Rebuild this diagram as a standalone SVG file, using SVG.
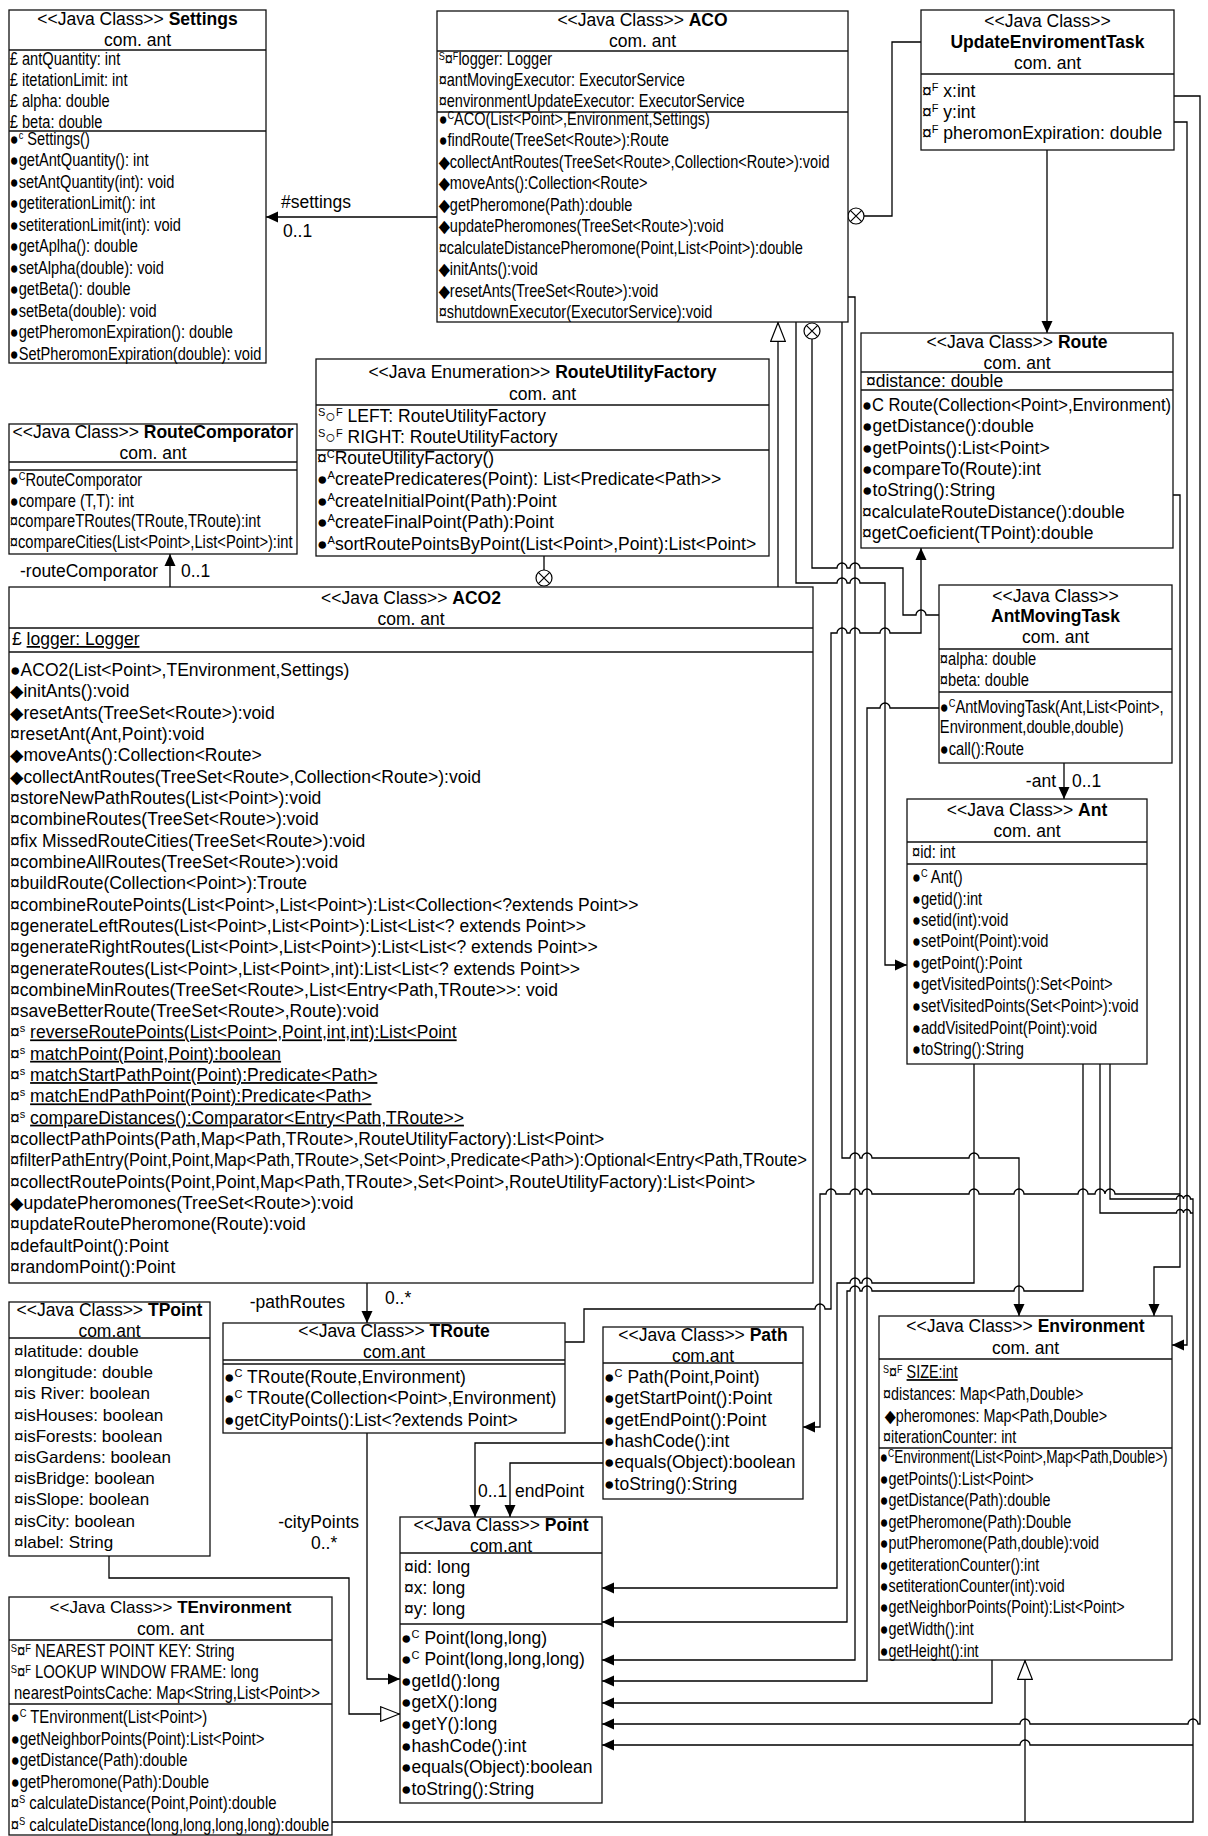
<svg xmlns="http://www.w3.org/2000/svg" width="1208" height="1836" viewBox="0 0 1208 1836">
<style>
text{font-family:"Liberation Sans",Arial,"DejaVu Sans",sans-serif;font-size:17.5px;fill:#000}
.m{text-anchor:middle}
.e{text-anchor:end}
.bd{font-weight:bold}
.s{font-size:11px}
.u{text-decoration:underline}
.bx{fill:#fff;stroke:#111;stroke-width:1.3}
.ln{fill:none;stroke:#111;stroke-width:1.3}
.c{fill:none;stroke:#000;stroke-width:1.3}
.x circle{fill:#fff;stroke:#000;stroke-width:1.2}
.x path{stroke:#000;stroke-width:1.2;fill:none}
</style>
<defs>
<marker id="a" viewBox="0 0 12 12" refX="12" refY="6" markerWidth="12" markerHeight="12" markerUnits="userSpaceOnUse" orient="auto"><path d="M0,0.5L12,6L0,11.5z" fill="#000"/></marker>
<marker id="t" viewBox="0 0 20 16" refX="20" refY="8" markerWidth="20" markerHeight="16" markerUnits="userSpaceOnUse" orient="auto"><path d="M0.7,0.7L19.3,8L0.7,15.3z" fill="#fff" stroke="#000" stroke-width="1.2"/></marker>
</defs>
<rect width="1208" height="1836" fill="#fff"/>

<g id="connectors">
<path class="c" d="M437,217H266" marker-end="url(#a)"/>
<path class="c" d="M864,216H892V42H921"/>
<g class="x"><circle cx="856" cy="216" r="8"/><path d="M850.3,210.3L861.7,221.7M861.7,210.3L850.3,221.7"/></g>
<path class="c" d="M1047,150V333" marker-end="url(#a)"/>
<path class="c" d="M1174,96H1200V1724H1198A5,5 0 0 0 1188,1724H1030A5,5 0 0 0 1020,1724H602" marker-end="url(#a)"/>
<path class="c" d="M1174,122H1187V1345H1172" marker-end="url(#a)"/>
<path class="c" d="M1173,495H1180V1267H1154V1316" marker-end="url(#a)"/>
<path class="c" d="M1180,1194H1115A5,5 0 0 0 1105,1194A5,5 0 0 0 1095,1194H1088A5,5 0 0 0 1078,1194H1024A5,5 0 0 0 1014,1194H979A5,5 0 0 0 969,1194H872A5,5 0 0 0 862,1194H860A5,5 0 0 0 850,1194H836A5,5 0 0 0 826,1194H820V1427H803" marker-end="url(#a)"/>
<path class="c" d="M842,322V1158H850A5,5 0 0 1 860,1158H862A5,5 0 0 1 872,1158H969A5,5 0 0 1 979,1158H1019V1316" marker-end="url(#a)"/>
<path class="c" d="M848,297H855V1660H602" marker-end="url(#a)"/>
<path class="c" d="M939,708H890A5,5 0 0 0 880,708H867V1681H602" marker-end="url(#a)"/>
<path class="c" d="M974,1064V1283H872A5,5 0 0 0 862,1283H860A5,5 0 0 0 850,1283H837V1588H602" marker-end="url(#a)"/>
<path class="c" d="M1083,1064V1291H1024A5,5 0 0 0 1014,1291H872A5,5 0 0 0 862,1291H860A5,5 0 0 0 850,1291H847V1622H602" marker-end="url(#a)"/>
<path class="c" d="M1110,1064V1199H1176.5A3.5,3.5 0 0 1 1183.5,1199A3.5,3.5 0 0 1 1190.5,1199H1193V1822H332"/>
<path class="c" d="M1100,1064V1213H1176.5A3.5,3.5 0 0 1 1183.5,1213A3.5,3.5 0 0 1 1190.5,1213H1193"/>
<path class="c" d="M1193,1745H1030A5,5 0 0 0 1020,1745H602" marker-end="url(#a)"/>
<path class="c" d="M992,1660V1703H602" marker-end="url(#a)"/>
<path class="c" d="M1025,1822V1660" marker-end="url(#t)"/>
<path class="c" d="M565,1342H584V1309H815A5,5 0 0 1 825,1309H831V633H837A5,5 0 0 1 847,633H850A5,5 0 0 1 860,633H880A5,5 0 0 1 890,633H921V548" marker-end="url(#a)"/>
<path class="c" d="M796,322V583H837A5,5 0 0 1 847,583H850A5,5 0 0 1 860,583H885V965H907" marker-end="url(#a)"/>
<path class="c" d="M812,339V568H837A5,5 0 0 1 847,568H850A5,5 0 0 1 860,568H903V615H916A5,5 0 0 1 926,615H939"/>
<g class="x"><circle cx="812" cy="331" r="8"/><path d="M806.3,325.3L817.7,336.7M817.7,325.3L806.3,336.7"/></g>
<path class="c" d="M1064,763V799" marker-end="url(#a)"/>
<path class="c" d="M778,587V322" marker-end="url(#t)"/>
<path class="c" d="M544,556V570"/>
<g class="x"><circle cx="544" cy="578" r="8"/><path d="M538.3,572.3L549.7,583.7M549.7,572.3L538.3,583.7"/></g>
<path class="c" d="M170,587V554" marker-end="url(#a)"/>
<path class="c" d="M367,1283V1323" marker-end="url(#a)"/>
<path class="c" d="M367,1395V1679H400" marker-end="url(#a)"/>
<path class="c" d="M603,1443H475V1517" marker-end="url(#a)"/>
<path class="c" d="M603,1463H510V1517" marker-end="url(#a)"/>
<path class="c" d="M109,1556V1578H349V1714H400" marker-end="url(#t)"/>
<text x="281" y="208">#settings</text>
<text x="283" y="237">0..1</text>
<text x="20" y="577">-routeComporator</text>
<text x="181" y="577">0..1</text>
<text class="e" x="1056" y="787">-ant</text>
<text x="1072" y="787">0..1</text>
<text class="e" x="345" y="1308">-pathRoutes</text>
<text x="385" y="1304">0..*</text>
<text class="e" x="359" y="1528">-cityPoints</text>
<text x="311" y="1549">0..*</text>
<text x="478" y="1497">0..1</text>
<text x="515" y="1497">endPoint</text>
</g>

<g id="Settings">
<rect class="bx" x="9" y="10" width="257" height="353"/>
<path class="ln" d="M9,50H266M9,131H266"/>
<text class="m" x="137.5" y="25">&lt;&lt;Java Class&gt;&gt; <tspan class="bd">Settings</tspan></text>
<text class="m" x="137.5" y="46">com. ant</text>
<g transform="translate(9,0) scale(0.835,1)">
<text x="1" y="65">£ antQuantity: int</text>
<text x="1" y="86">£ itetationLimit: int</text>
<text x="1" y="107">£ alpha: double</text>
<text x="1" y="128">£ beta: double</text>
<text x="1" y="145">●<tspan class="s" dy="-6">c</tspan><tspan dy="6"> Settings()</tspan></text>
<text x="1" y="166.5">●getAntQuantity(): int</text>
<text x="1" y="188">●setAntQuantity(int): void</text>
<text x="1" y="209.5">●getiterationLimit(): int</text>
<text x="1" y="231">●setiterationLimit(int): void</text>
<text x="1" y="252.5">●getAplha(): double</text>
<text x="1" y="274">●setAlpha(double): void</text>
<text x="1" y="295.5">●getBeta(): double</text>
<text x="1" y="317">●setBeta(double): void</text>
<text x="1" y="338.5">●getPheromonExpiration(): double</text>
<text x="1" y="360">●SetPheromonExpiration(double): void</text>
</g>
</g>

<g id="ACO">
<rect class="bx" x="437" y="11" width="411" height="311"/>
<path class="ln" d="M437,51H848M437,112H848"/>
<text class="m" x="642.5" y="26">&lt;&lt;Java Class&gt;&gt; <tspan class="bd">ACO</tspan></text>
<text class="m" x="642.5" y="47">com. ant</text>
<g transform="translate(437,0) scale(0.83,1)">
<text x="2" y="65"><tspan class="s" dy="-5">S</tspan><tspan dy="5">¤</tspan><tspan class="s" dy="-5">F</tspan><tspan dy="5">logger: Logger</tspan></text>
<text x="2" y="86">¤antMovingExecutor: ExecutorService</text>
<text x="2" y="107">¤environmentUpdateExecutor: ExecutorService</text>
<text x="2" y="125">●<tspan class="s" dy="-6">C</tspan><tspan dy="6">ACO(List&lt;Point&gt;,Environment,Settings)</tspan></text>
<text x="2" y="146.5">●findRoute(TreeSet&lt;Route&gt;):Route</text>
<text x="2" y="168">◆collectAntRoutes(TreeSet&lt;Route&gt;,Collection&lt;Route&gt;):void</text>
<text x="2" y="189.5">◆moveAnts():Collection&lt;Route&gt;</text>
<text x="2" y="211">◆getPheromone(Path):double</text>
<text x="2" y="232.5">◆updatePheromones(TreeSet&lt;Route&gt;):void</text>
<text x="2" y="254">¤calculateDistancePheromone(Point,List&lt;Point&gt;):double</text>
<text x="2" y="275.5">◆initAnts():void</text>
<text x="2" y="297">◆resetAnts(TreeSet&lt;Route&gt;):void</text>
<text x="2" y="318.5">¤shutdownExecutor(ExecutorService):void</text>
</g>
</g>

<g id="UpdateEnviromentTask">
<rect class="bx" x="921" y="10" width="253" height="140"/>
<path class="ln" d="M921,74H1174"/>
<text class="m" x="1047.5" y="27">&lt;&lt;Java Class&gt;&gt;</text>
<text class="m bd" x="1047.5" y="48">UpdateEnviromentTask</text>
<text class="m" x="1047.5" y="69">com. ant</text>
<text x="922" y="97">¤<tspan class="s" dy="-6">F</tspan><tspan dy="6"> x:int</tspan></text>
<text x="922" y="118">¤<tspan class="s" dy="-6">F</tspan><tspan dy="6"> y:int</tspan></text>
<text x="922" y="139">¤<tspan class="s" dy="-6">F</tspan><tspan dy="6"> pheromonExpiration: double</tspan></text>
</g>

<g id="Route">
<rect class="bx" x="861" y="333" width="312" height="215"/>
<path class="ln" d="M861,372H1173M861,390H1173"/>
<text class="m" x="1017" y="348">&lt;&lt;Java Class&gt;&gt; <tspan class="bd">Route</tspan></text>
<text class="m" x="1017" y="369">com. ant</text>
<text x="866" y="387">¤distance: double</text>
<text x="862" y="411" textLength="309" lengthAdjust="spacingAndGlyphs">●C Route(Collection&lt;Point&gt;,Environment)</text>
<text x="862" y="432.3">●getDistance():double</text>
<text x="862" y="453.6">●getPoints():List&lt;Point&gt;</text>
<text x="862" y="475">●compareTo(Route):int</text>
<text x="862" y="496.2">●toString():String</text>
<text x="862" y="517.5">¤calculateRouteDistance():double</text>
<text x="862" y="538.8">¤getCoeficient(TPoint):double</text>
</g>

<g id="RouteComporator">
<rect class="bx" x="9" y="424" width="288" height="130"/>
<path class="ln" d="M9,462H297M9,470H297"/>
<text class="m" x="153" y="438">&lt;&lt;Java Class&gt;&gt; <tspan class="bd">RouteComporator</tspan></text>
<text class="m" x="153" y="459">com. ant</text>
<g transform="translate(9,0) scale(0.84,1)">
<text x="1" y="486">●<tspan class="s" dy="-6">C</tspan><tspan dy="6">RouteComporator</tspan></text>
<text x="1" y="507">●compare (T,T): int</text>
<text x="1" y="527">¤compareTRoutes(TRoute,TRoute):int</text>
<text x="1" y="548">¤compareCities(List&lt;Point&gt;,List&lt;Point&gt;):int</text>
</g>
</g>

<g id="RouteUtilityFactory">
<rect class="bx" x="316" y="359" width="453" height="197"/>
<path class="ln" d="M316,405H769M316,450H769"/>
<text class="m" x="542.5" y="378">&lt;&lt;Java Enumeration&gt;&gt; <tspan class="bd">RouteUtilityFactory</tspan></text>
<text class="m" x="542.5" y="400">com. ant</text>
<text x="318" y="422"><tspan class="s" dy="-6">S</tspan><tspan class="bd" dy="6">○</tspan><tspan class="s" dy="-6">F</tspan><tspan dy="6"> LEFT: RouteUtilityFactory</tspan></text>
<text x="318" y="443"><tspan class="s" dy="-6">S</tspan><tspan class="bd" dy="6">○</tspan><tspan class="s" dy="-6">F</tspan><tspan dy="6"> RIGHT: RouteUtilityFactory</tspan></text>
<text x="317" y="464">¤<tspan class="s" dy="-6">C</tspan><tspan dy="6">RouteUtilityFactory()</tspan></text>
<text x="317" y="485">●<tspan class="s" dy="-6">A</tspan><tspan dy="6">createPredicateres(Point): List&lt;Predicate&lt;Path&gt;&gt;</tspan></text>
<text x="317" y="507">●<tspan class="s" dy="-6">A</tspan><tspan dy="6">createInitialPoint(Path):Point</tspan></text>
<text x="317" y="528">●<tspan class="s" dy="-6">A</tspan><tspan dy="6">createFinalPoint(Path):Point</tspan></text>
<text x="317" y="550">●<tspan class="s" dy="-6">A</tspan><tspan dy="6">sortRoutePointsByPoint(List&lt;Point&gt;,Point):List&lt;Point&gt;</tspan></text>
</g>

<g id="ACO2">
<rect class="bx" x="9" y="587" width="804" height="696"/>
<path class="ln" d="M9,628H813M9,652H813"/>
<text class="m" x="411" y="604">&lt;&lt;Java Class&gt;&gt; <tspan class="bd">ACO2</tspan></text>
<text class="m" x="411" y="625">com. ant</text>
<text x="12" y="645">£ <tspan class="u">logger: Logger</tspan></text>
<text x="10" y="676">●ACO2(List&lt;Point&gt;,TEnvironment,Settings)</text>
<text x="10" y="697.3">◆initAnts():void</text>
<text x="10" y="718.6">◆resetAnts(TreeSet&lt;Route&gt;):void</text>
<text x="10" y="740">¤resetAnt(Ant,Point):void</text>
<text x="10" y="761.3">◆moveAnts():Collection&lt;Route&gt;</text>
<text x="10" y="782.6">◆collectAntRoutes(TreeSet&lt;Route&gt;,Collection&lt;Route&gt;):void</text>
<text x="10" y="803.9">¤storeNewPathRoutes(List&lt;Point&gt;):void</text>
<text x="10" y="825.2">¤combineRoutes(TreeSet&lt;Route&gt;):void</text>
<text x="10" y="846.6">¤fix MissedRouteCities(TreeSet&lt;Route&gt;):void</text>
<text x="10" y="867.9">¤combineAllRoutes(TreeSet&lt;Route&gt;):void</text>
<text x="10" y="889.2">¤buildRoute(Collection&lt;Point&gt;):Troute</text>
<text x="10" y="910.5">¤combineRoutePoints(List&lt;Point&gt;,List&lt;Point&gt;):List&lt;Collection&lt;?extends Point&gt;&gt;</text>
<text x="10" y="931.8">¤generateLeftRoutes(List&lt;Point&gt;,List&lt;Point&gt;):List&lt;List&lt;? extends Point&gt;&gt;</text>
<text x="10" y="953.2">¤generateRightRoutes(List&lt;Point&gt;,List&lt;Point&gt;):List&lt;List&lt;? extends Point&gt;&gt;</text>
<text x="10" y="974.5">¤generateRoutes(List&lt;Point&gt;,List&lt;Point&gt;,int):List&lt;List&lt;? extends Point&gt;&gt;</text>
<text x="10" y="995.8">¤combineMinRoutes(TreeSet&lt;Route&gt;,List&lt;Entry&lt;Path,TRoute&gt;&gt;: void</text>
<text x="10" y="1017.1">¤saveBetterRoute(TreeSet&lt;Route&gt;,Route):void</text>
<text x="10" y="1038.4">¤<tspan class="s" dy="-6">s</tspan><tspan dy="6"> </tspan><tspan class="u">reverseRoutePoints(List&lt;Point&gt;,Point,int,int):List&lt;Point</tspan></text>
<text x="10" y="1059.8">¤<tspan class="s" dy="-6">s</tspan><tspan dy="6"> </tspan><tspan class="u">matchPoint(Point,Point):boolean</tspan></text>
<text x="10" y="1081.1">¤<tspan class="s" dy="-6">s</tspan><tspan dy="6"> </tspan><tspan class="u">matchStartPathPoint(Point):Predicate&lt;Path&gt;</tspan></text>
<text x="10" y="1102.4">¤<tspan class="s" dy="-6">s</tspan><tspan dy="6"> </tspan><tspan class="u">matchEndPathPoint(Point):Predicate&lt;Path&gt;</tspan></text>
<text x="10" y="1123.7">¤<tspan class="s" dy="-6">s</tspan><tspan dy="6"> </tspan><tspan class="u">compareDistances():Comparator&lt;Entry&lt;Path,TRoute&gt;&gt;</tspan></text>
<text x="10" y="1145">¤collectPathPoints(Path,Map&lt;Path,TRoute&gt;,RouteUtilityFactory):List&lt;Point&gt;</text>
<text x="10" y="1166.4" textLength="797" lengthAdjust="spacingAndGlyphs">¤filterPathEntry(Point,Point,Map&lt;Path,TRoute&gt;,Set&lt;Point&gt;,Predicate&lt;Path&gt;):Optional&lt;Entry&lt;Path,TRoute&gt;</text>
<text x="10" y="1187.7">¤collectRoutePoints(Point,Point,Map&lt;Path,TRoute&gt;,Set&lt;Point&gt;,RouteUtilityFactory):List&lt;Point&gt;</text>
<text x="10" y="1209">◆updatePheromones(TreeSet&lt;Route&gt;):void</text>
<text x="10" y="1230.3">¤updateRoutePheromone(Route):void</text>
<text x="10" y="1251.6">¤defaultPoint():Point</text>
<text x="10" y="1273">¤randomPoint():Point</text>
</g>

<g id="AntMovingTask">
<rect class="bx" x="939" y="585" width="233" height="178"/>
<path class="ln" d="M939,649H1172M939,692H1172"/>
<text class="m" x="1055.5" y="602">&lt;&lt;Java Class&gt;&gt;</text>
<text class="m bd" x="1055.5" y="622">AntMovingTask</text>
<text class="m" x="1055.5" y="643">com. ant</text>
<g transform="translate(939,0) scale(0.84,1)">
<text x="1" y="665">¤alpha: double</text>
<text x="1" y="686">¤beta: double</text>
<text x="1" y="713">●<tspan class="s" dy="-6">C</tspan><tspan dy="6">AntMovingTask(Ant,List&lt;Point&gt;,</tspan></text>
<text x="1" y="733">Environment,double,double)</text>
<text x="1" y="755">●call():Route</text>
</g>
</g>

<g id="Ant">
<rect class="bx" x="907" y="799" width="240" height="265"/>
<path class="ln" d="M907,842H1147M907,864H1147"/>
<text class="m" x="1027" y="816">&lt;&lt;Java Class&gt;&gt; <tspan class="bd">Ant</tspan></text>
<text class="m" x="1027" y="837">com. ant</text>
<g transform="translate(907,0) scale(0.84,1)">
<text x="6" y="858">¤id: int</text>
<text x="6" y="883">●<tspan class="s" dy="-6">C</tspan><tspan dy="6"> Ant()</tspan></text>
<text x="6" y="905">●getid():int</text>
<text x="6" y="926">●setid(int):void</text>
<text x="6" y="947">●setPoint(Point):void</text>
<text x="6" y="969">●getPoint():Point</text>
<text x="6" y="990">●getVisitedPoints():Set&lt;Point&gt;</text>
<text x="6" y="1012">●setVisitedPoints(Set&lt;Point&gt;):void</text>
<text x="6" y="1034">●addVisitedPoint(Point):void</text>
<text x="6" y="1055">●toString():String</text>
</g>
</g>

<g id="TPoint">
<rect class="bx" x="9" y="1302" width="201" height="254"/>
<path class="ln" d="M9,1338H210"/>
<text class="m" x="109.5" y="1316">&lt;&lt;Java Class&gt;&gt; <tspan class="bd">TPoint</tspan></text>
<text class="m" x="109.5" y="1337">com.ant</text>
<text x="14" y="1357" style="font-size:17px">¤latitude: double</text>
<text x="14" y="1378" style="font-size:17px">¤longitude: double</text>
<text x="14" y="1399" style="font-size:17px">¤is River: boolean</text>
<text x="14" y="1421" style="font-size:17px">¤isHouses: boolean</text>
<text x="14" y="1442" style="font-size:17px">¤isForests: boolean</text>
<text x="14" y="1463" style="font-size:17px">¤isGardens: boolean</text>
<text x="14" y="1484" style="font-size:17px">¤isBridge: boolean</text>
<text x="14" y="1505" style="font-size:17px">¤isSlope: boolean</text>
<text x="14" y="1527" style="font-size:17px">¤isCity: boolean</text>
<text x="14" y="1548" style="font-size:17px">¤label: String</text>
</g>

<g id="TRoute">
<rect class="bx" x="223" y="1323" width="342" height="110"/>
<path class="ln" d="M223,1360H565M223,1364H565"/>
<text class="m" x="394" y="1337">&lt;&lt;Java Class&gt;&gt; <tspan class="bd">TRoute</tspan></text>
<text class="m" x="394" y="1358">com.ant</text>
<text x="224" y="1383">●<tspan class="s" dy="-6">C</tspan><tspan dy="6"> TRoute(Route,Environment)</tspan></text>
<text x="224" y="1404">●<tspan class="s" dy="-6">C</tspan><tspan dy="6"> TRoute(Collection&lt;Point&gt;,Environment)</tspan></text>
<text x="224" y="1426">●getCityPoints():List&lt;?extends Point&gt;</text>
</g>

<g id="Path">
<rect class="bx" x="603" y="1327" width="200" height="172"/>
<path class="ln" d="M603,1363H803"/>
<text class="m" x="703" y="1341">&lt;&lt;Java Class&gt;&gt; <tspan class="bd">Path</tspan></text>
<text class="m" x="703" y="1362">com.ant</text>
<text x="604" y="1383">●<tspan class="s" dy="-6">C</tspan><tspan dy="6"> Path(Point,Point)</tspan></text>
<text x="604" y="1404">●getStartPoint():Point</text>
<text x="604" y="1426">●getEndPoint():Point</text>
<text x="604" y="1447">●hashCode():int</text>
<text x="604" y="1468">●equals(Object):boolean</text>
<text x="604" y="1490">●toString():String</text>
</g>

<g id="Environment">
<rect class="bx" x="879" y="1316" width="293" height="344"/>
<path class="ln" d="M879,1359H1172M879,1448H1172"/>
<text class="m" x="1025.5" y="1332">&lt;&lt;Java Class&gt;&gt; <tspan class="bd">Environment</tspan></text>
<text class="m" x="1025.5" y="1354">com. ant</text>
<g transform="translate(879,0) scale(0.82,1)">
<text x="5" y="1378"><tspan class="s" dy="-5">S</tspan><tspan dy="5">¤</tspan><tspan class="s" dy="-5">F</tspan><tspan dy="5"> </tspan><tspan class="u">SIZE:int</tspan></text>
<text x="5" y="1400">¤distances: Map&lt;Path,Double&gt;</text>
<text x="7" y="1422">◆pheromones: Map&lt;Path,Double&gt;</text>
<text x="5" y="1443">¤iterationCounter: int</text>
<text x="1" y="1463" textLength="351" lengthAdjust="spacingAndGlyphs">●<tspan class="s" dy="-6">C</tspan><tspan dy="6">Environment(List&lt;Point&gt;,Map&lt;Path,Double&gt;)</tspan></text>
<text x="1" y="1485">●getPoints():List&lt;Point&gt;</text>
<text x="1" y="1506">●getDistance(Path):double</text>
<text x="1" y="1528">●getPheromone(Path):Double</text>
<text x="1" y="1549">●putPheromone(Path,double):void</text>
<text x="1" y="1571">●getiterationCounter():int</text>
<text x="1" y="1592">●setiterationCounter(int):void</text>
<text x="1" y="1613">●getNeighborPoints(Point):List&lt;Point&gt;</text>
<text x="1" y="1635">●getWidth():int</text>
<text x="1" y="1657">●getHeight():int</text>
</g>
</g>

<g id="Point">
<rect class="bx" x="400" y="1517" width="202" height="286"/>
<path class="ln" d="M400,1553H602M400,1624H602"/>
<text class="m" x="501" y="1531">&lt;&lt;Java Class&gt;&gt; <tspan class="bd">Point</tspan></text>
<text class="m" x="501" y="1552">com.ant</text>
<text x="404" y="1573">¤id: long</text>
<text x="404" y="1594">¤x: long</text>
<text x="404" y="1615">¤y: long</text>
<text x="401" y="1644">●<tspan class="s" dy="-6">C</tspan><tspan dy="6"> Point(long,long)</tspan></text>
<text x="401" y="1665">●<tspan class="s" dy="-6">C</tspan><tspan dy="6"> Point(long,long,long)</tspan></text>
<text x="401" y="1687">●getId():long</text>
<text x="401" y="1708">●getX():long</text>
<text x="401" y="1730">●getY():long</text>
<text x="401" y="1752">●hashCode():int</text>
<text x="401" y="1773">●equals(Object):boolean</text>
<text x="401" y="1795">●toString():String</text>
</g>

<g id="TEnvironment">
<rect class="bx" x="9" y="1597" width="323" height="238"/>
<path class="ln" d="M9,1640H332M9,1704H332"/>
<text class="m" x="170.5" y="1613" style="font-size:17px">&lt;&lt;Java Class&gt;&gt; <tspan class="bd">TEnvironment</tspan></text>
<text class="m" x="170.5" y="1635">com. ant</text>
<g transform="translate(9,0) scale(0.85,1)">
<text x="2" y="1657"><tspan class="s" dy="-5">S</tspan><tspan dy="5">¤</tspan><tspan class="s" dy="-5">F</tspan><tspan dy="5"> NEAREST POINT KEY: String</tspan></text>
<text x="2" y="1678"><tspan class="s" dy="-5">S</tspan><tspan dy="5">¤</tspan><tspan class="s" dy="-5">F</tspan><tspan dy="5"> LOOKUP WINDOW FRAME: long</tspan></text>
<text x="6" y="1699">nearestPointsCache: Map&lt;String,List&lt;Point&gt;&gt;</text>
<text x="2" y="1723">●<tspan class="s" dy="-6">C</tspan><tspan dy="6"> TEnvironment(List&lt;Point&gt;)</tspan></text>
<text x="2" y="1745">●getNeighborPoints(Point):List&lt;Point&gt;</text>
<text x="2" y="1766">●getDistance(Path):double</text>
<text x="2" y="1788">●getPheromone(Path):Double</text>
<text x="2" y="1809">¤<tspan class="s" dy="-6">S</tspan><tspan dy="6"> calculateDistance(Point,Point):double</tspan></text>
<text x="2" y="1831">¤<tspan class="s" dy="-6">S</tspan><tspan dy="6"> calculateDistance(long,long,long,long):double</tspan></text>
</g>
</g>
</svg>
